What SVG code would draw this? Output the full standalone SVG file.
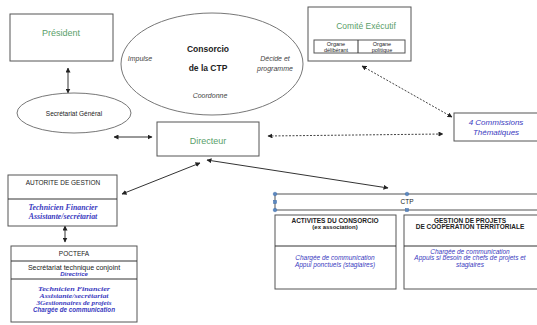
<svg xmlns="http://www.w3.org/2000/svg" width="537" height="325" viewBox="0 0 537 325">
<defs>
<marker id="ah" viewBox="0 0 10 10" refX="9" refY="5" markerWidth="5" markerHeight="5" orient="auto-start-reverse"><path d="M0,0 L10,5 L0,10 z" fill="#222"/></marker>
<style>
.box{fill:#fff;stroke:#555;stroke-width:1}
.ell{fill:#fff;stroke:#777;stroke-width:1}
.ln{stroke:#333;stroke-width:1;fill:none}
.dot{stroke:#444;stroke-width:1;fill:none;stroke-dasharray:2,1.5}
text{font-family:"Liberation Sans",Arial,sans-serif;text-anchor:middle;fill:#222}
.g{fill:#5aa06a}
.bl{fill:#3a3ac0;font-style:italic}
.it{font-style:italic;fill:#444}
.ser{font-family:"Liberation Serif","Times New Roman",serif;font-style:italic;font-weight:bold;fill:#3a3ac0}
.h{fill:#5b88c0;stroke:#3d6aa8;stroke-width:0.5}
</style>
</defs>
<rect width="537" height="325" fill="#fff"/>
<g id="connectors">
<line class="ln" x1="68" y1="68" x2="68" y2="93" marker-start="url(#ah)" marker-end="url(#ah)"/>
<line class="ln" x1="114" y1="137" x2="152" y2="137" marker-start="url(#ah)" marker-end="url(#ah)"/>
<line class="ln" x1="122" y1="194" x2="200" y2="163" marker-start="url(#ah)" marker-end="url(#ah)"/>
<line class="ln" x1="207" y1="160" x2="388" y2="188" marker-start="url(#ah)" marker-end="url(#ah)"/>
<line class="dot" x1="268" y1="136" x2="443" y2="134" marker-start="url(#ah)" marker-end="url(#ah)"/>
<line class="dot" x1="362" y1="66" x2="452" y2="117" marker-start="url(#ah)" marker-end="url(#ah)"/>
<line class="ln" x1="65" y1="226" x2="65" y2="242" marker-start="url(#ah)" marker-end="url(#ah)"/>
</g>
<g id="president">
<rect class="box" x="10" y="14" width="103" height="47"/>
<text class="g" x="61" y="36" font-size="9">Président</text>
</g>
<g id="consorcio">
<ellipse class="ell" cx="212" cy="64" rx="91" ry="51"/>
<text x="208" y="52" font-size="8.5" font-weight="bold" fill="#333">Consorcio</text>
<text x="208" y="71" font-size="8.5" font-weight="bold" fill="#333">de la CTP</text>
<text class="it" x="140" y="61" font-size="7">Impulse</text>
<text class="it" x="275" y="61" font-size="7">Décide et</text>
<text class="it" x="275" y="71" font-size="7">programme</text>
<text class="it" x="210" y="98" font-size="7">Coordonne</text>
</g>
<g id="comite">
<rect class="box" x="308" y="7" width="103" height="54"/>
<text class="g" x="366" y="29" font-size="8.5">Comité Exécutif</text>
<rect class="box" x="314" y="40" width="91" height="13" stroke="#333"/>
<line class="ln" x1="358" y1="40" x2="358" y2="53"/>
<text x="336" y="46" font-size="5.5" fill="#444">Organe</text>
<text x="336" y="51.5" font-size="5.5" fill="#444">délibérant</text>
<text x="382" y="46" font-size="5.5" fill="#444">Organe</text>
<text x="382" y="51.5" font-size="5.5" fill="#444">politique</text>
</g>
<g id="secretariat">
<ellipse class="ell" cx="74" cy="113" rx="57" ry="20"/>
<text x="74" y="116" font-size="6.5" fill="#333">Secrétariat Général</text>
</g>
<g id="directeur">
<rect class="box" x="157" y="122" width="102" height="34"/>
<text class="g" x="208" y="144" font-size="9">Directeur</text>
</g>
<g id="commissions">
<rect class="box" x="454" y="113" width="90" height="28"/>
<text class="bl" x="496" y="125" font-size="8">4 Commissions</text>
<text class="bl" x="496" y="135" font-size="8">Thématiques</text>
</g>
<g id="autorite">
<rect class="box" x="8" y="175" width="109" height="51"/>
<line class="ln" x1="8" y1="199" x2="117" y2="199" stroke="#555"/>
<text x="63" y="185" font-size="6.5">AUTORITE DE GESTION</text>
<text class="ser" x="63" y="210" font-size="7.8">Technicien Financier</text>
<text class="ser" x="63" y="219" font-size="7.8">Assistante/secrétariat</text>
</g>
<g id="poctefa">
<rect class="box" x="11" y="246" width="126" height="76"/>
<line class="ln" x1="11" y1="261" x2="137" y2="261" stroke="#555"/>
<line class="ln" x1="11" y1="279" x2="137" y2="279" stroke="#555"/>
<text x="74" y="256" font-size="6.5">POCTEFA</text>
<text x="74" y="270" font-size="7">Secrétariat technique conjoint</text>
<text class="bl" x="74" y="276" font-size="6" font-weight="bold">Directrice</text>
<text class="ser" x="74" y="291" font-size="6.8" textLength="72" lengthAdjust="spacingAndGlyphs">Technicien Financier</text>
<text class="ser" x="74" y="298" font-size="6.8" textLength="69" lengthAdjust="spacingAndGlyphs">Assistante/secrétariat</text>
<text class="ser" x="74" y="305" font-size="6.8" textLength="75" lengthAdjust="spacingAndGlyphs">3Gestionnaires de projets</text>
<text class="bl" x="74" y="312" font-size="6.3" font-weight="bold" textLength="82" lengthAdjust="spacingAndGlyphs">Chargée de communication</text>
</g>
<g id="ctp">
<rect class="box" x="275" y="194" width="270" height="16" stroke="#444"/>
<text x="407" y="204" font-size="6.5">CTP</text>
<circle class="h" cx="275" cy="194" r="1.8"/>
<circle class="h" cx="275" cy="210" r="1.8"/>
<rect class="h" x="273.5" y="200.5" width="3" height="3"/>
<circle class="h" cx="407" cy="194" r="1.8"/>
<rect class="h" x="405.5" y="208.5" width="3" height="3"/>
</g>
<g id="activites">
<rect class="box" x="275" y="215" width="121" height="74"/>
<line class="ln" x1="275" y1="246" x2="396" y2="246" stroke="#555"/>
<text x="335" y="223" font-size="6.5" font-weight="bold" fill="#333">ACTIVITES DU CONSORCIO</text>
<text x="335" y="229" font-size="6" font-weight="bold" fill="#333">(ex association)</text>
<text class="bl" x="335" y="260" font-size="6.5">Chargée de communication</text>
<text class="bl" x="335" y="267" font-size="6.5">Appui ponctuels (stagiaires)</text>
</g>
<g id="gestion">
<rect class="box" x="404" y="215" width="140" height="74"/>
<line class="ln" x1="404" y1="246" x2="544" y2="246" stroke="#555"/>
<text x="470" y="223" font-size="6.5" font-weight="bold" fill="#333">GESTION DE PROJETS</text>
<text x="470" y="229" font-size="6.5" font-weight="bold" fill="#333">DE COOPERATION TERRITORIALE</text>
<text class="bl" x="470" y="254" font-size="6.5">Chargée de communication</text>
<text class="bl" x="470" y="260" font-size="6.5">Appuis si besoin de chefs de projets et</text>
<text class="bl" x="470" y="267" font-size="6.5">stagiaires</text>
</g>
</svg>
